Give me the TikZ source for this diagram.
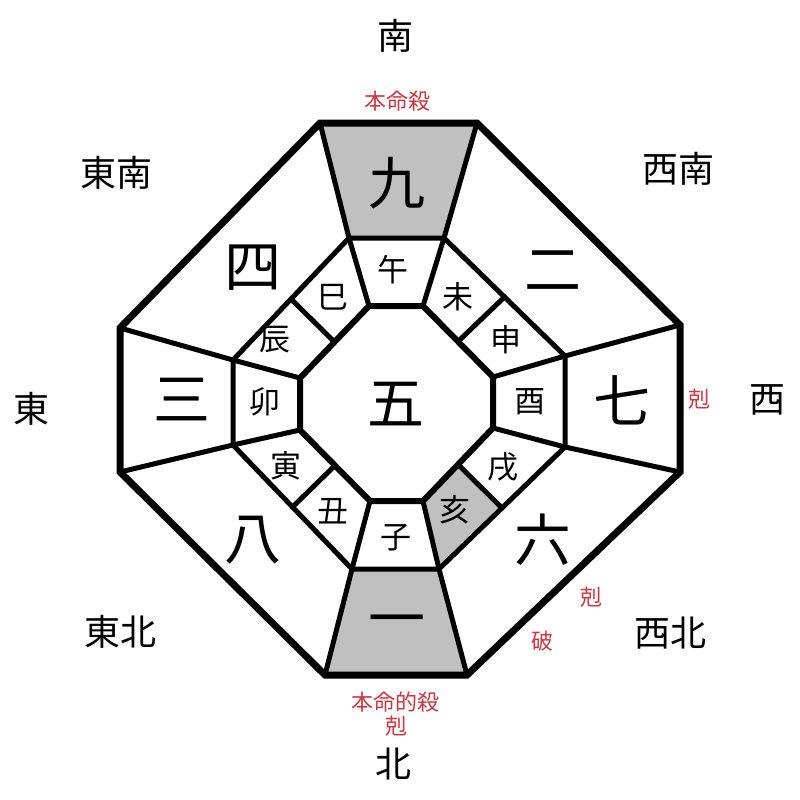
\documentclass[tikz,border=0pt]{standalone}
\usepackage{fontspec}
\newfontfamily\cjk{Noto Sans CJK JP}
\usetikzlibrary{calc}
\definecolor{cellgray}{RGB}{192,192,192}
\definecolor{labelred}{RGB}{205,55,65}
\tikzset{
  outerline/.style={line width=7pt, line join=miter},
  innerline/.style={line width=5pt, line join=miter, line cap=round},
  graycell/.style={fill=cellgray, draw=none},
  dirtext/.style={font=\cjk\fontsize{36}{36}\selectfont, inner sep=0pt},
  startext/.style={font=\cjk\fontsize{57}{57}\selectfont, inner sep=0pt},
  zodtext/.style={font=\cjk\fontsize{31}{31}\selectfont, inner sep=0pt},
  redtext/.style={font=\cjk\fontsize{22}{22}\selectfont, text=labelred, inner sep=0pt},
}
\begin{document}
\begin{tikzpicture}[x=1pt,y=-1pt]
\useasboundingbox (0,0) rectangle (800,800);
\fill[white] (0,0) rectangle (800,800);
% outer octagon
\coordinate (O1) at (320,123);
\coordinate (O2) at (477,123);
\coordinate (O3) at (680,325);
\coordinate (O4) at (680,472);
\coordinate (O5) at (467,675);
\coordinate (O6) at (325,675);
\coordinate (O7) at (120,472);
\coordinate (O8) at (120,328);
% middle ring
\coordinate (M1) at (349,238);
\coordinate (M2) at (444,238);
\coordinate (M3) at (565,356);
\coordinate (M4) at (565,447);
\coordinate (M5) at (439,569);
\coordinate (M6) at (352,569);
\coordinate (M7) at (233,445);
\coordinate (M8) at (233,360);
% inner octagon
\coordinate (I1) at (369,306);
\coordinate (I2) at (423,306);
\coordinate (I3) at (493,377);
\coordinate (I4) at (493,428);
\coordinate (I5) at (423,501);
\coordinate (I6) at (370,501);
\coordinate (I7) at (300,430);
\coordinate (I8) at (300,378);
% midpoints
\coordinate (MA) at ($(M2)!0.5!(M3)$);
\coordinate (IA) at ($(I2)!0.5!(I3)$);
\coordinate (MB) at ($(M4)!0.5!(M5)$);
\coordinate (IB) at ($(I4)!0.5!(I5)$);
\coordinate (MC) at ($(M6)!0.5!(M7)$);
\coordinate (IC) at ($(I6)!0.5!(I7)$);
\coordinate (MD) at ($(M8)!0.5!(M1)$);
\coordinate (ID) at ($(I8)!0.5!(I1)$);
% gray cells
\path[graycell] (O1) -- (O2) -- (M2) -- (M1) -- cycle;
\path[graycell] (M6) -- (M5) -- (O5) -- (O6) -- cycle;
\path[graycell] (I5) -- (IB) -- (MB) -- (M5) -- cycle;
% internal lines
\draw[innerline] (M1) -- (M2) -- (M3) -- (M4) -- (M5) -- (M6) -- (M7) -- (M8) -- cycle;
\draw[innerline, line width=6pt] (I1) -- (I2) -- (I3) -- (I4) -- (I5) -- (I6) -- (I7) -- (I8) -- cycle;
\foreach \k in {1,...,8}{
  \draw[innerline] (O\k) -- (M\k);
  \draw[innerline] (M\k) -- (I\k);
}
\draw[innerline] (MA) -- (IA);
\draw[innerline] (MB) -- (IB);
\draw[innerline] (MC) -- (IC);
\draw[innerline] (MD) -- (ID);
% outer octagon
\draw[outerline] (O1) -- (O2) -- (O3) -- (O4) -- (O5) -- (O6) -- (O7) -- (O8) -- cycle;
% directions
\node[dirtext] (dS) at (395,36) {南};
\node[dirtext] (dSE) at (116,173) {東南};
\node[dirtext] (dSW) at (678,169) {西南};
\node[dirtext] (dE) at (31,409) {東};
\node[dirtext] (dW) at (767,400) {西};
\node[dirtext] (dNE) at (120,632) {東北};
\node[dirtext] (dNW) at (670,633) {西北};
\node[dirtext] (dN) at (393,764) {北};
% stars
\node[startext] (s9) at (397,183) {九};
\node[startext] (s2) at (553,271) {二};
\node[startext] (s7) at (622,400) {七};
\node[startext] (s6) at (543,540) {六};
\node[startext] (s1) at (397,627) {一};
\node[startext] (s8) at (253,540) {八};
\node[startext] (s3) at (182,400) {三};
\node[startext] (s4) at (253,268) {四};
\node[startext] (s5) at (396,404) {五};
% zodiac
\node[zodtext] (zU) at (393,270) {午};
\node[zodtext] (zW) at (458,297) {未};
\node[zodtext] (zS) at (506,340) {申};
\node[zodtext] (zT) at (530,402) {酉};
\node[zodtext] (zI) at (503,467) {戌};
\node[zodtext] (zG) at (455,510) {亥};
\node[zodtext] (zN) at (396,538) {子};
\node[zodtext] (zX) at (333,511) {丑};
\node[zodtext] (zY) at (286,466) {寅};
\node[zodtext] (zM) at (265,402) {卯};
\node[zodtext] (zR) at (275,340) {辰};
\node[zodtext] (zB) at (333,297) {巳};
% red labels
\node[redtext] (r1) at (397,101) {本命殺};
\node[redtext] (r2) at (395,702) {本命的殺};
\node[redtext] (r3) at (396,726) {剋};
\node[redtext] (r4) at (699,399) {剋};
\node[redtext] (r5) at (591,597) {剋};
\node[redtext] (r6) at (542,641) {破};
\end{tikzpicture}
\end{document}
